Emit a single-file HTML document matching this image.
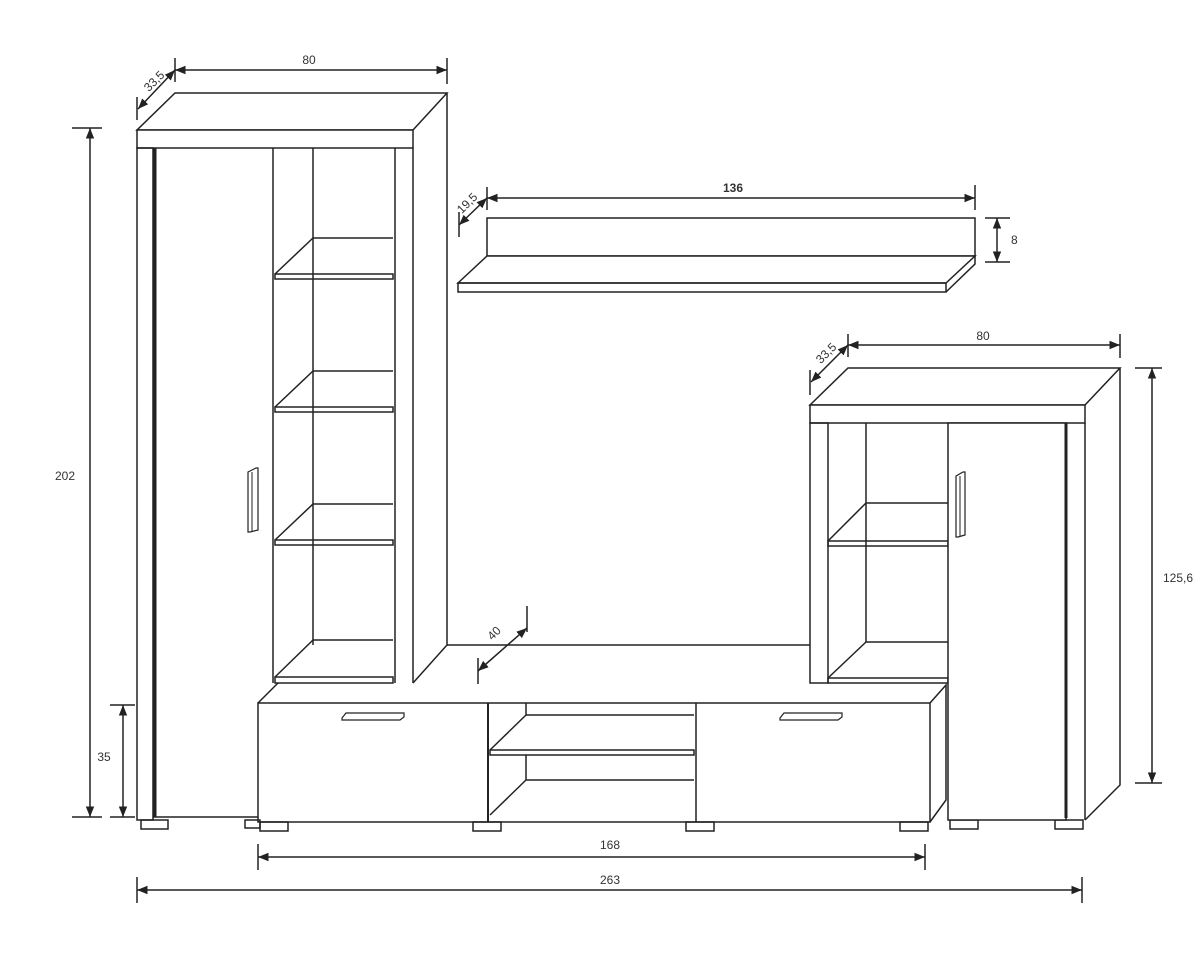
<!DOCTYPE html>
<html><head><meta charset="utf-8"><style>
html,body{margin:0;padding:0;background:#fff;}
svg{display:block;}
text{font-family:"Liberation Sans",sans-serif;font-size:12px;fill:#333;}
</style></head><body>
<svg width="1200" height="960" viewBox="0 0 1200 960" xmlns="http://www.w3.org/2000/svg">
<defs>
<marker id="a" viewBox="0 0 10 10" refX="10" refY="5" markerWidth="7" markerHeight="7" orient="auto-start-reverse"><path d="M0,1 L10,5 L0,9 z" fill="#222"/></marker>
</defs>
<g fill="none" stroke="#222" stroke-width="1.5" stroke-linejoin="miter">
<!-- LEFT TALL CABINET -->
<path d="M137,130 L175,93 L447,93 L413,130 Z" fill="#fff"/>
<rect x="137" y="130" width="276" height="18" fill="#fff"/>
<path d="M447,93 L447,645 L413,683"/>
<path d="M413,148 L413,683"/>
<rect x="137" y="148" width="16" height="672"/>
<line x1="155" y1="148" x2="155" y2="817" stroke-width="3"/>
<line x1="153" y1="817" x2="258" y2="817"/>
<line x1="273" y1="148" x2="273" y2="683"/>
<line x1="395" y1="148" x2="395" y2="683"/>
<line x1="313" y1="148" x2="313" y2="645"/>
<!-- shelves -->
<path d="M313,238 L393,238 M313,238 L275,274"/><rect x="275" y="274" width="118" height="5"/>
<path d="M313,371 L393,371 M313,371 L275,407"/><rect x="275" y="407" width="118" height="5"/>
<path d="M313,504 L393,504 M313,504 L275,540"/><rect x="275" y="540" width="118" height="5"/>
<path d="M313,640 L393,640 M313,640 L275,677"/><rect x="275" y="677" width="118" height="6"/>
<path d="M248,472 L256,468 L258,468 L258,530 L250,532 L248,532 Z" stroke-width="1.2"/>
<line x1="252" y1="472" x2="252" y2="531" stroke-width="1"/>

<!-- WALL SHELF -->
<rect x="487" y="218" width="488" height="38"/>
<path d="M458,283 L487,256 L975,256 L946,283 Z" fill="#fff"/>
<rect x="458" y="283" width="488" height="9"/>
<path d="M975,256 L975,264 L946,292"/>

<!-- TV UNIT -->
<path d="M447,645 L810,645"/>
<path d="M258,703 L278,683 M930,703 L946,685 L946,800 L930,822"/>
<rect x="258" y="703" width="672" height="119"/>
<line x1="488" y1="703" x2="488" y2="822" stroke-width="2"/>
<line x1="696" y1="703" x2="696" y2="822"/>
<path d="M526,703 L526,715 L694,715 M526,715 L490,750"/><rect x="490" y="750" width="204" height="5"/>
<path d="M526,755 L526,780 L694,780 M526,780 L490,815"/>
<path d="M342,718 L346,713 L404,713 L404,717 L400,720 L342,720 Z" stroke-width="1.2"/>
<path d="M780,718 L784,713 L842,713 L842,717 L838,720 L780,720 Z" stroke-width="1.2"/>
<!-- feet -->
<rect x="141" y="820" width="27" height="9"/>
<rect x="245" y="820" width="15" height="8"/>
<rect x="260" y="822" width="28" height="9"/>
<rect x="473" y="822" width="28" height="9"/>
<rect x="686" y="822" width="28" height="9"/>
<rect x="900" y="822" width="28" height="9"/>
<rect x="950" y="820" width="28" height="9"/>
<rect x="1055" y="820" width="28" height="9"/>

<!-- RIGHT CABINET -->
<path d="M810,405 L848,368 L1120,368 L1085,405 Z" fill="#fff"/>
<rect x="810" y="405" width="275" height="18" fill="#fff"/>
<path d="M1120,368 L1120,785 L1085,820"/>
<line x1="1085" y1="423" x2="1085" y2="820"/>
<rect x="810" y="423" width="18" height="260"/>
<line x1="866" y1="423" x2="866" y2="642"/>
<path d="M866,503 L948,503 M866,503 L828,541"/><rect x="828" y="541" width="120" height="5"/>
<path d="M866,642 L948,642 M866,642 L828,678"/><rect x="828" y="678" width="120" height="5"/>
<rect x="948" y="423" width="118" height="397" fill="#fff"/>
<line x1="1066" y1="423" x2="1066" y2="818" stroke-width="3"/>
<path d="M956,476 L963,472 L965,472 L965,535 L958,537 L956,537 Z" stroke-width="1.2"/>
<line x1="960" y1="476" x2="960" y2="536" stroke-width="1"/>
</g>

<!-- DIMENSIONS -->
<g stroke="#222" stroke-width="1.5" fill="none">
<line x1="175" y1="70" x2="447" y2="70" marker-start="url(#a)" marker-end="url(#a)"/>
<line x1="175" y1="58" x2="175" y2="82"/><line x1="447" y1="58" x2="447" y2="84"/>
<line x1="138" y1="109" x2="175" y2="70" marker-start="url(#a)" marker-end="url(#a)"/>
<line x1="137" y1="97" x2="137" y2="120"/>
<line x1="90" y1="128" x2="90" y2="817" marker-start="url(#a)" marker-end="url(#a)"/>
<line x1="72" y1="128" x2="102" y2="128"/><line x1="72" y1="817" x2="102" y2="817"/>
<line x1="123" y1="705" x2="123" y2="817" marker-start="url(#a)" marker-end="url(#a)"/>
<line x1="110" y1="705" x2="135" y2="705"/><line x1="110" y1="817" x2="135" y2="817"/>
<line x1="487" y1="198" x2="975" y2="198" marker-start="url(#a)" marker-end="url(#a)"/>
<line x1="487" y1="187" x2="487" y2="210"/><line x1="975" y1="185" x2="975" y2="210"/>
<line x1="459" y1="225" x2="487" y2="198" marker-start="url(#a)" marker-end="url(#a)"/>
<line x1="459" y1="212" x2="459" y2="237"/>
<line x1="997" y1="218" x2="997" y2="262" marker-start="url(#a)" marker-end="url(#a)"/>
<line x1="985" y1="218" x2="1010" y2="218"/><line x1="985" y1="262" x2="1010" y2="262"/>
<line x1="848" y1="345" x2="1120" y2="345" marker-start="url(#a)" marker-end="url(#a)"/>
<line x1="848" y1="334" x2="848" y2="357"/><line x1="1120" y1="334" x2="1120" y2="358"/>
<line x1="811" y1="382" x2="848" y2="345" marker-start="url(#a)" marker-end="url(#a)"/>
<line x1="810" y1="370" x2="810" y2="395"/>
<line x1="1152" y1="368" x2="1152" y2="783" marker-start="url(#a)" marker-end="url(#a)"/>
<line x1="1135" y1="368" x2="1162" y2="368"/><line x1="1135" y1="783" x2="1162" y2="783"/>
<line x1="478" y1="671" x2="527" y2="628" marker-start="url(#a)" marker-end="url(#a)"/>
<line x1="478" y1="658" x2="478" y2="684"/><line x1="527" y1="606" x2="527" y2="632"/>
<line x1="258" y1="857" x2="925" y2="857" marker-start="url(#a)" marker-end="url(#a)"/>
<line x1="258" y1="844" x2="258" y2="870"/><line x1="925" y1="844" x2="925" y2="870"/>
<line x1="137" y1="890" x2="1082" y2="890" marker-start="url(#a)" marker-end="url(#a)"/>
<line x1="137" y1="877" x2="137" y2="903"/><line x1="1082" y1="877" x2="1082" y2="903"/>
</g>
<text x="309" y="64" text-anchor="middle">80</text>
<text x="0" y="0" transform="translate(157,84) rotate(-45)" text-anchor="middle">33,5</text>
<text x="65" y="480" text-anchor="middle">202</text>
<text x="104" y="761" text-anchor="middle">35</text>
<text x="733" y="192" text-anchor="middle" font-weight="bold">136</text>
<text x="0" y="0" transform="translate(470,206) rotate(-45)" text-anchor="middle">19,5</text>
<text x="1011" y="244">8</text>
<text x="983" y="340" text-anchor="middle">80</text>
<text x="0" y="0" transform="translate(829,356) rotate(-45)" text-anchor="middle">33,5</text>
<text x="1178" y="582" text-anchor="middle">125,6</text>
<text x="0" y="0" transform="translate(497,636) rotate(-45)" text-anchor="middle">40</text>
<text x="610" y="849" text-anchor="middle">168</text>
<text x="610" y="884" text-anchor="middle">263</text>
</svg>
</body></html>
